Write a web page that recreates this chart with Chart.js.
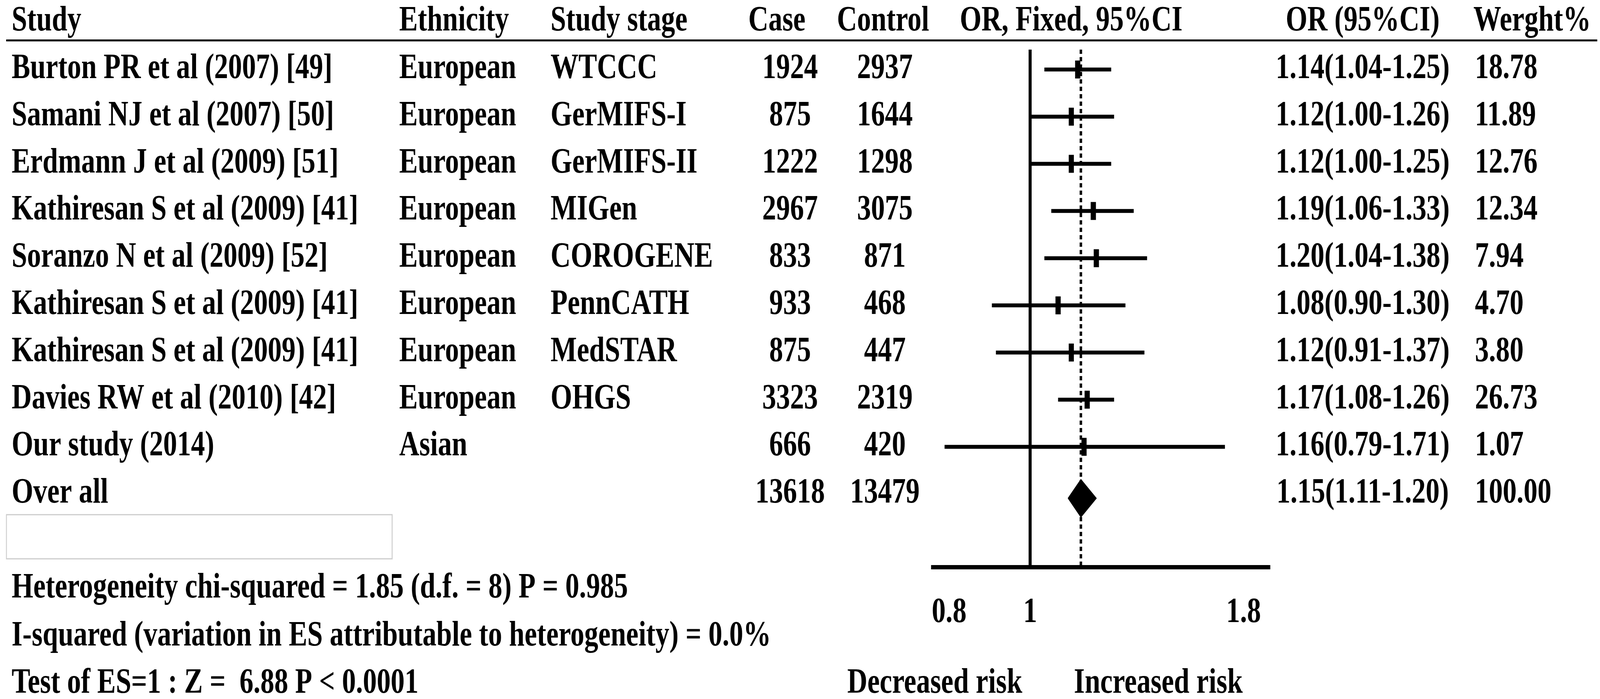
<!DOCTYPE html>
<html>
<head>
<meta charset="utf-8">
<script src="https://cdn.jsdelivr.net/npm/chart.js@4.4.1/dist/chart.umd.min.js"></script>
<style>
  html, body { margin: 0; padding: 0; background: #fff; overflow: hidden; }
  #forest { display: block; width: 100vw !important; height: 100vh !important; }
</style>
</head>
<body>
<canvas id="forest" width="5231" height="1790"></canvas>
<script>
// data
const studies = ['Burton PR et al (2007) [49]', 'Samani NJ et al (2007) [50]', 'Erdmann J et al (2009) [51]',
  'Kathiresan S et al (2009) [41]', 'Soranzo N et al (2009) [52]', 'Kathiresan S et al (2009) [41]',
  'Kathiresan S et al (2009) [41]', 'Davies RW et al (2010) [42]', 'Our study (2014)'];
const ethnicity = ['European', 'European', 'European', 'European', 'European', 'European', 'European', 'European', 'Asian'];
const stages = ['WTCCC', 'GerMIFS-I', 'GerMIFS-II', 'MIGen', 'COROGENE', 'PennCATH', 'MedSTAR', 'OHGS', ''];
const cases = [1924, 875, 1222, 2967, 833, 933, 875, 3323, 666];
const controls = [2937, 1644, 1298, 3075, 871, 468, 447, 2319, 420];
const oddsRatio = [1.14, 1.12, 1.12, 1.19, 1.20, 1.08, 1.12, 1.17, 1.16];
const ciLower = [1.04, 1.00, 1.00, 1.06, 1.04, 0.90, 0.91, 1.08, 0.79];
const ciUpper = [1.25, 1.26, 1.25, 1.33, 1.38, 1.30, 1.37, 1.26, 1.71];
const weights = ['18.78', '11.89', '12.76', '12.34', '7.94', '4.70', '3.80', '26.73', '1.07'];

const overallLabel = 'Over all';
const overallCases = 13618;
const overallControls = 13479;
const overallOR = 1.15;
const overallLower = 1.11;
const overallUpper = 1.20;
const overallWeight = '100.00';

const xTicks = [0.8, 1, 1.8];
const headers = ['Study', 'Ethnicity', 'Study stage', 'Case', 'Control', 'OR, Fixed, 95%CI', 'OR (95%CI)', 'Werght%'];
const footerLines = [
  'Heterogeneity chi-squared = 1.85 (d.f. = 8) P = 0.985',
  'I-squared (variation in ES attributable to heterogeneity) = 0.0%',
  'Test of ES=1 : Z =  6.88 P < 0.0001'
];
const riskLabels = ['Decreased risk', 'Increased risk'];

// layout
const FONT = 'bold 91px "Liberation Serif", "Times New Roman", serif';
const Y_MIN = -0.422, Y_MAX = 10.554;
const overallRow = studies.length;

const fmtCI = (o, l, u) => o.toFixed(2) + '(' + l.toFixed(2) + '-' + u.toFixed(2) + ')';

const ciSets = studies.map((s, i) => ({
  data: [{ x: ciLower[i], y: i }, { x: ciUpper[i], y: i }],
  showLine: true,
  borderColor: '#000',
  borderWidth: 10,
  pointRadius: 0
}));

const pointSet = {
  data: oddsRatio.map((v, i) => ({ x: v, y: i })),
  showLine: false,
  pointStyle: 'line',
  rotation: 90,
  pointRadius: 23,
  pointBorderWidth: 17,
  pointBorderColor: '#000',
  pointBackgroundColor: '#000'
};

const dY = 0.09, halfH = 0.40;
const diamondSet = {
  data: [
    { x: overallLower, y: overallRow + dY },
    { x: overallOR, y: overallRow + dY - halfH },
    { x: overallUpper, y: overallRow + dY },
    { x: overallOR, y: overallRow + dY + halfH },
    { x: overallLower, y: overallRow + dY }
  ],
  showLine: true,
  fill: 'shape',
  tension: 0,
  borderColor: '#000',
  backgroundColor: '#000',
  borderWidth: 2,
  pointRadius: 0
};

const nullLine = {
  data: [{ x: 1, y: Y_MIN }, { x: 1, y: Y_MAX }],
  showLine: true,
  borderColor: '#000',
  borderWidth: 10,
  pointRadius: 0
};

const pooledLine = {
  data: [{ x: overallOR, y: Y_MIN }, { x: overallOR, y: Y_MAX }],
  showLine: true,
  borderColor: '#000',
  borderWidth: 8,
  borderDash: [11, 8],
  pointRadius: 0
};

const tablePlugin = {
  id: 'forestTable',
  afterDraw(chart) {
    const ctx = chart.ctx;
    const y = chart.scales.y;
    ctx.save();
    ctx.fillStyle = '#000';
    ctx.font = FONT;
    ctx.textBaseline = 'alphabetic';

    const put = (txt, x, yc, align) => {
      ctx.textAlign = align || 'left';
      ctx.fillText(String(txt), x, yc + 30);
    };

    // header
    const hy = 48;
    put(headers[0], 38, hy);
    put(headers[1], 1305, hy);
    put(headers[2], 1800, hy);
    put(headers[3], 2540, hy, 'center');
    put(headers[4], 2887, hy, 'center');
    put(headers[5], 3502, hy, 'center');
    put(headers[6], 4455, hy, 'center');
    put(headers[7], 4817, hy);

    ctx.fillRect(20, 101, 5202, 5);

    // study rows
    studies.forEach((s, i) => {
      const yc = y.getPixelForValue(i) - 8;
      put(s, 38, yc);
      put(ethnicity[i], 1305, yc);
      put(stages[i], 1800, yc);
      put(cases[i], 2583, yc, 'center');
      put(controls[i], 2893, yc, 'center');
      put(fmtCI(oddsRatio[i], ciLower[i], ciUpper[i]), 4455, yc, 'center');
      put(weights[i], 4822, yc);
    });

    const oy = y.getPixelForValue(overallRow) - 8;
    put(overallLabel, 38, oy);
    put(overallCases, 2583, oy, 'center');
    put(overallControls, 2893, oy, 'center');
    put(fmtCI(overallOR, overallLower, overallUpper), 4455, oy, 'center');
    put(overallWeight, 4822, oy);

    // empty box under the table
    ctx.strokeStyle = '#cccccc';
    ctx.lineWidth = 3;
    ctx.strokeRect(21, 1318, 1261, 113);

    // footer
    put(footerLines[0], 38, 1500);
    put(footerLines[1], 38, 1623);
    put(footerLines[2], 38, 1744);
    put(riskLabels[0], 3056, 1744, 'center');
    put(riskLabels[1], 3787, 1744, 'center');
    ctx.restore();
  }
};

new Chart(document.getElementById('forest'), {
  type: 'scatter',
  data: { datasets: [nullLine, pooledLine, ...ciSets, pointSet, diamondSet] },
  options: {
    responsive: false,
    animation: false,
    devicePixelRatio: 1,
    layout: { padding: { left: 3049, right: 1079, top: 127, bottom: 104 } },
    plugins: { legend: { display: false }, tooltip: { enabled: false } },
    scales: {
      x: {
        type: 'logarithmic',
        position: 'bottom',
        min: 0.7644,
        max: 1.9358,
        afterBuildTicks: (scale) => { scale.ticks = xTicks.map(v => ({ value: v })); },
        grid: { display: false, drawTicks: false },
        border: { display: true, color: '#000', width: 11 },
        ticks: {
          autoSkip: false,
          maxRotation: 0,
          padding: 62,
          color: '#000',
          font: { family: '"Liberation Serif", "Times New Roman", serif', size: 91, weight: 'bold' },
          callback: (v) => String(v)
        }
      },
      y: {
        type: 'linear',
        reverse: true,
        min: Y_MIN,
        max: Y_MAX,
        display: false
      }
    }
  },
  plugins: [tablePlugin]
});
</script>
</body>
</html>
